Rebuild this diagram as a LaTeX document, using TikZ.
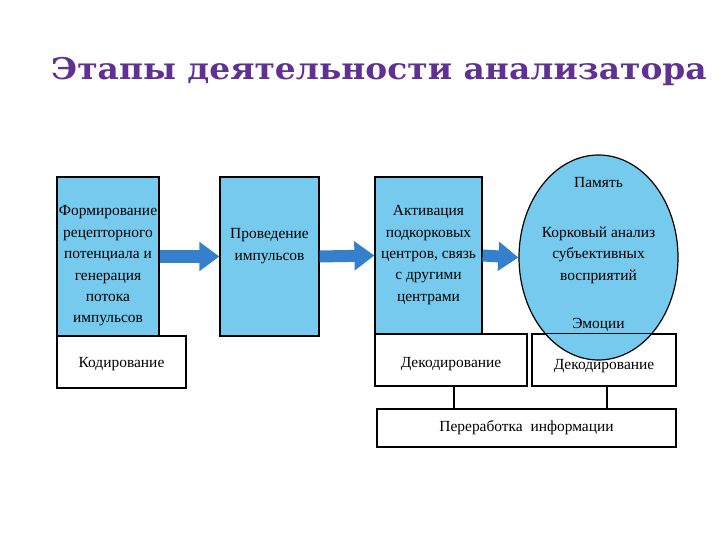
\documentclass[tikz,border=0pt]{standalone}
\usepackage{fontspec}
\setmainfont{Liberation Serif}
\newfontfamily\titlefont[FakeStretch=1.10]{DejaVu Serif}
\usetikzlibrary{arrows.meta,shapes.geometric}
\definecolor{boxblue}{RGB}{118,202,238}
\definecolor{arrowblue}{RGB}{52,128,205}
\definecolor{titlepurple}{RGB}{96,48,146}
\tikzset{
	bluebox/.style={draw, line width=1.2bp, fill=boxblue, inner sep=0pt},
	whitebox/.style={draw, line width=1.2bp, fill=white, inner sep=0pt},
	boxtext/.style={align=center, inner sep=0pt, font=\fontsize{15.5}{21.5}\selectfont},
	fatarrow/.style={draw=arrowblue, line width=12bp, -{Triangle[length=20bp,width=28bp]}},
	link/.style={line width=2bp}
}
\begin{document}
\begin{tikzpicture}[x=1bp, y=-1bp]
	\useasboundingbox (0,0) rectangle (720,540);
	\node[anchor=base west, inner sep=0pt, text=titlepurple, font=\titlefont\bfseries\fontsize{30}{36}\selectfont] (title) at (51,80) {Этапы деятельности анализатора};

	\node[bluebox, minimum width=102bp, minimum height=159bp] (form) at (108,256.5) {};
	\node[bluebox, minimum width=99bp, minimum height=159bp] (prov) at (269.5,256.5) {};
	\node[bluebox, minimum width=107bp, minimum height=157bp] (activ) at (428.5,255.5) {};

	\node[whitebox, minimum width=129bp, minimum height=52bp] (cod) at (121.5,362) {};
	\node[whitebox, minimum width=152bp, minimum height=52bp] (decod) at (451,360) {};
	\node[whitebox, minimum width=144bp, minimum height=52bp] (decodb) at (604,360) {};
	\node[whitebox, minimum width=299bp, minimum height=38bp] (proc) at (526.5,428) {};

	\node[ellipse, draw, line width=1.2bp, fill=boxblue, inner sep=0pt, minimum width=159bp, minimum height=205bp] (cortex) at (598.5,257.5) {};
	\draw[line width=1.2bp] (decodb.north west) -- (decodb.north east);

	\draw[fatarrow] (form.east) -- (prov.west);
	\draw[fatarrow] (prov.east) -- (activ.west);
	\draw[fatarrow] (activ.east) -- (cortex.west);

	\draw[link] (decod.south -| 454,0) -- (proc.north -| 454,0);
	\draw[link] (decodb.south -| 607,0) -- (proc.north -| 607,0);

	\node[boxtext] (formtxt) at (108,266) {Формирование\\рецепторного\\потенциала и\\генерация\\потока\\импульсов};
	\node[boxtext] (provtxt) at (269.5,246) {Проведение\\импульсов};
	\node[boxtext] (activtxt) at (428.5,255) {Активация\\подкорковых\\центров, связь\\с другими\\центрами};
	\node[boxtext] (memtxt) at (598.5,183) {Память};
	\node[boxtext] (cortextxt) at (598.5,255) {Корковый анализ\\субъективных\\восприятий};
	\node[boxtext] (emotxt) at (598.5,325) {Эмоции};
	\node[boxtext] (codtxt) at (121.5,364) {Кодирование};
	\node[boxtext] (decodtxt) at (451,364) {Декодирование};
	\node[boxtext] (decodbtxt) at (604,366) {Декодирование};
	\node[boxtext] (proctxt) at (proc) {Переработка\ \ информации};
\end{tikzpicture}
\end{document}
